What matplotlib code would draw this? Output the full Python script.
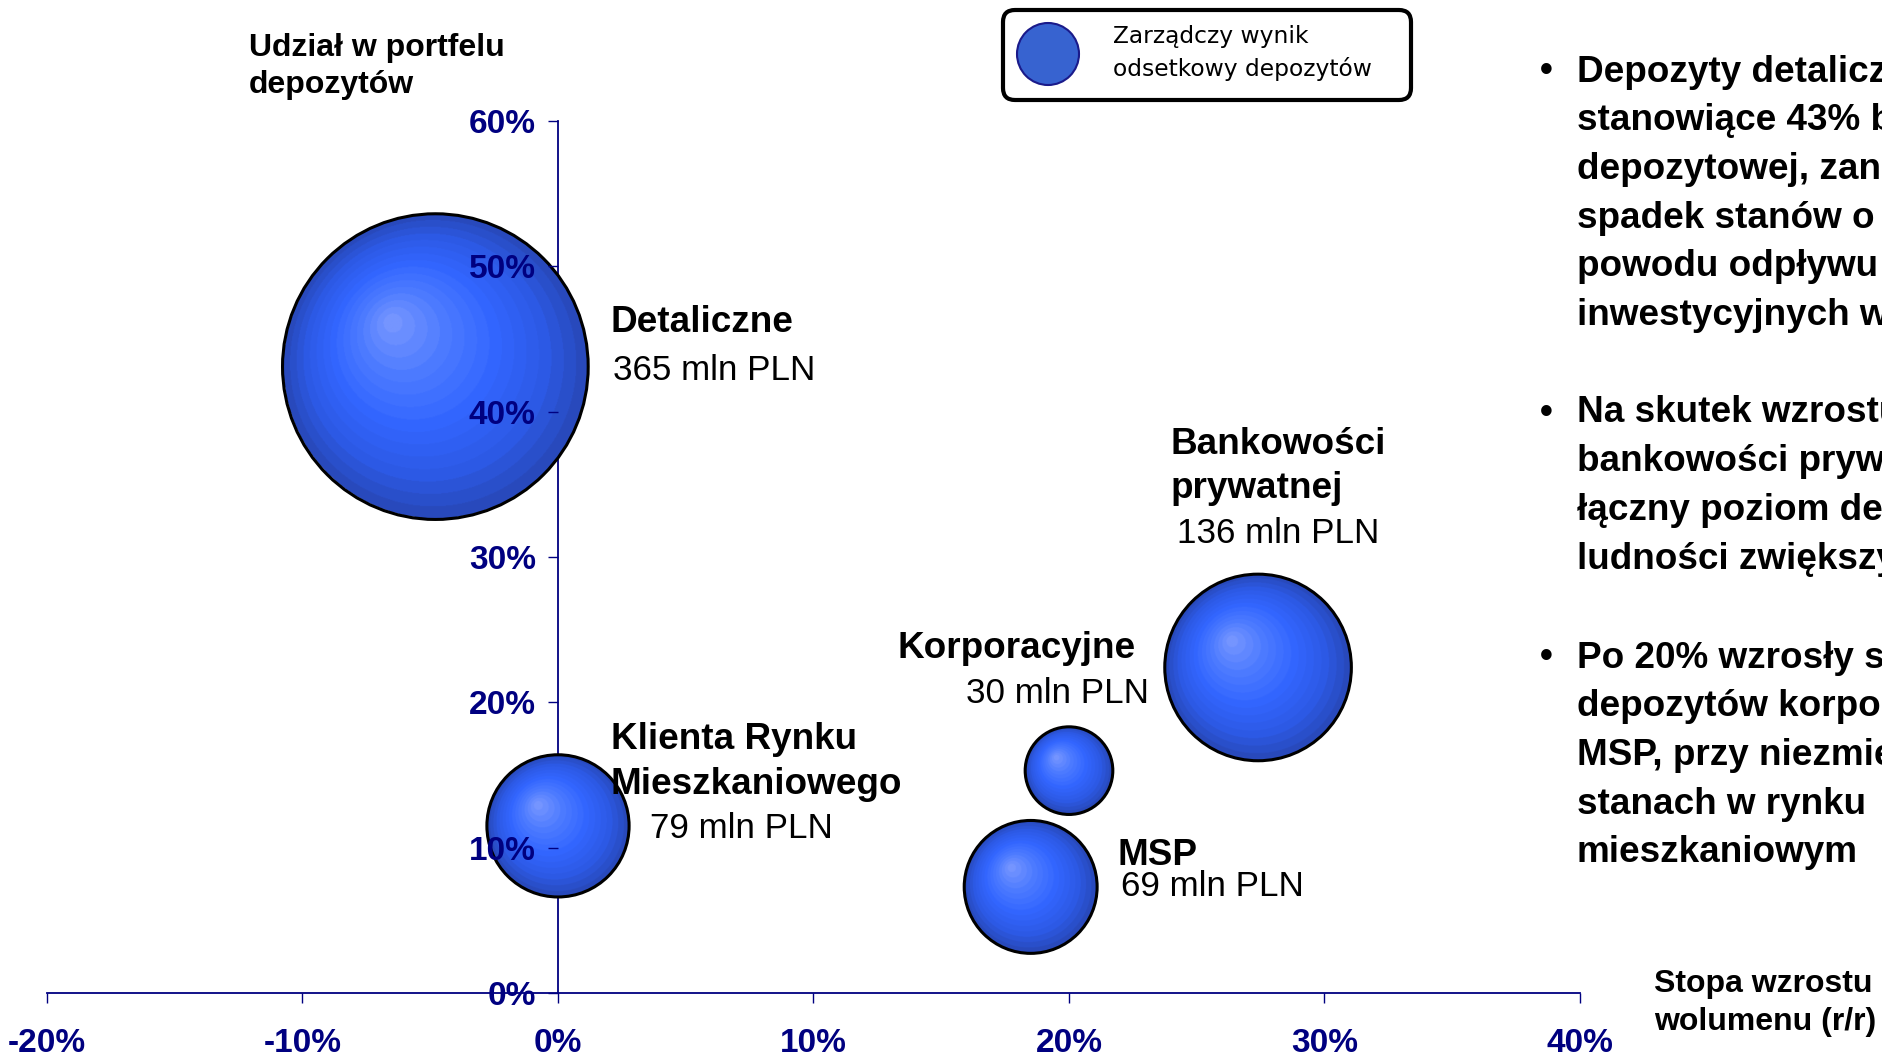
import numpy as np
import matplotlib.pyplot as plt
from matplotlib.colors import LinearSegmentedColormap
from matplotlib.patches import Ellipse, FancyBboxPatch
from matplotlib.transforms import IdentityTransform

plt.rcParams['font.family'] = ['Liberation Sans', 'DejaVu Sans']

# segment data: volume growth y/y (%), share in deposit portfolio (%), interest result (mln PLN)
segments = ['Detaliczne', 'Klienta Rynku\nMieszkaniowego', 'Korporacyjne', 'MSP', 'Bankowości\nprywatnej']
growth = [-4.8, 0.0, 20.0, 18.5, 27.4]
share = [43.1, 11.5, 15.3, 7.3, 22.4]
result = [365, 79, 30, 69, 136]

x_ticks = [-20, -10, 0, 10, 20, 30, 40]
y_ticks = [0, 10, 20, 30, 40, 50, 60]

bullets = [
    ['Depozyty detaliczne,', 'stanowiące 43% bazy', 'depozytowej, zanotowały',
     'spadek stanów o 5% z', 'powodu odpływu do funduszy', 'inwestycyjnych w 2006 r.'],
    ['Na skutek wzrostu depozytów', 'bankowości prywatnej o 27%',
     'łączny poziom depozytów', 'ludności zwiększył się'],
    ['Po 20% wzrosły stany', 'depozytów korporacyjnych i',
     'MSP, przy niezmienionych', 'stanach w rynku', 'mieszkaniowym'],
]

W, H = 1883, 1058
NAVY = '#000080'

fig = plt.figure(figsize=(W / 100, H / 100), dpi=100)
ax = fig.add_axes([47 / W, 1 - 993 / H, (1580 - 47) / W, (993 - 121) / H])
ax.set_xlim(-20, 40)
ax.set_ylim(0, 60)
ax.patch.set_visible(False)

for side in ['top', 'right']:
    ax.spines[side].set_visible(False)
ax.spines['left'].set_position(('data', 0))
for side in ['left', 'bottom']:
    ax.spines[side].set_color(NAVY)
    ax.spines[side].set_linewidth(1.3)
    ax.spines[side].set_zorder(1)

ax.set_xticks(x_ticks)
ax.set_yticks(y_ticks)
ax.set_xticklabels([f'{v}%' for v in x_ticks])
ax.set_yticklabels([f'{v}%' for v in y_ticks])
ax.tick_params(axis='both', colors=NAVY, labelcolor=NAVY, length=7, width=1,
               labelsize=24)
ax.tick_params(axis='x', pad=18.5)
ax.tick_params(axis='y', pad=9)
for lab in ax.get_xticklabels() + ax.get_yticklabels():
    lab.set_fontweight('bold')
ax.set_axisbelow(False)

# pixel scale of one data unit, used to keep bubbles round
p0 = ax.transData.transform((0, 0))
p1 = ax.transData.transform((1, 1))
sx, sy = p1 - p0

cmap = LinearSegmentedColormap.from_list(
    'ball', ['#7595ff', '#4d7bff', '#3366ff', '#2d5ae6', '#2745b0'])

n = 400
u = np.linspace(-1, 1, n)
gx, gy = np.meshgrid(u, u)
hx, hy = -0.3, 0.3
dx, dy = gx - hx, gy - hy
dist = np.hypot(dx, dy) + 1e-9
ux, uy = dx / dist, dy / dist
vu = hx * ux + hy * uy
reach = -vu + np.sqrt(vu ** 2 - (hx ** 2 + hy ** 2) + 1)
t = np.clip(dist / reach, 0, 1)
t = np.floor(t * 16) / 16
shade = cmap(t)
shade[..., 3] = (np.hypot(gx, gy) <= 1.0).astype(float)

for gxv, syv, val in zip(growth, share, result):
    r = 8.0 * np.sqrt(val)
    rx, ry = r / sx, r / sy
    ring = Ellipse((gxv, syv), 2 * rx, 2 * ry, facecolor='none',
                   edgecolor='black', linewidth=2.2, zorder=2.2)
    ax.add_patch(ring)
    img = ax.imshow(shade, extent=[gxv - rx, gxv + rx, syv - ry, syv + ry],
                    origin='lower', aspect='auto', zorder=2.1,
                    interpolation='bilinear')
    img.set_clip_path(ring)

ax.set_xlim(-20, 40)
ax.set_ylim(0, 60)


def ftext(x, y, s, **kw):
    kw.setdefault('va', 'baseline')
    return fig.text(x / W, 1 - y / H, s, **kw)


# bubble labels: name in bold, value underneath
name_pos = [(611, [332]), (611, [749, 794]), (898, [658]), (1118, [865]), (1171, [454, 498])]
value_pos = [(613, 380), (650, 838), (966, 703), (1121, 896), (1177, 543)]
for name, val, (nx, nys), (vx, vy) in zip(segments, result, name_pos, value_pos):
    for line, ny in zip(name.split('\n'), nys):
        ftext(nx, ny, line, fontsize=26.6, fontweight='bold', color='black')
    ftext(vx, vy, f'{val} mln PLN', fontsize=25.2, color='black')

# axis titles
ftext(249, 56, 'Udział w portfelu', fontsize=23, fontweight='bold')
ftext(249, 93, 'depozytów', fontsize=23, fontweight='bold')
ftext(1654, 992, 'Stopa wzrostu', fontsize=23, fontweight='bold')
ftext(1654, 1030, 'wolumenu (r/r)', fontsize=23, fontweight='bold')

# commentary on the right
starts = [81.5, 422.5, 667.5]
for para, y0 in zip(bullets, starts):
    ftext(1540, y0, '•', fontsize=26.6, fontweight='bold')
    for i, line in enumerate(para):
        ftext(1577, y0 + i * 48.75, line, fontsize=26.6, fontweight='bold')

# legend box drawn in pixel units so the corners stay round
pix = IdentityTransform()
box = FancyBboxPatch((1003 + 6, H - 100 + 6), 408 - 12, 90 - 12,
                     boxstyle='round,pad=6,rounding_size=12',
                     facecolor='white', edgecolor='black', linewidth=3,
                     transform=pix)
fig.patches.append(box)
key = Ellipse((1048, H - 54), 62, 62, facecolor='#3763d0',
              edgecolor='#1a1a8a', linewidth=1.5, transform=pix)
fig.patches.append(key)
ftext(1113, 37, 'Zarządczy wynik', fontsize=16.8, family='DejaVu Sans', va='center')
ftext(1113, 69, 'odsetkowy depozytów', fontsize=16.8, family='DejaVu Sans', va='center')

fig.savefig('out.png', dpi=100)
